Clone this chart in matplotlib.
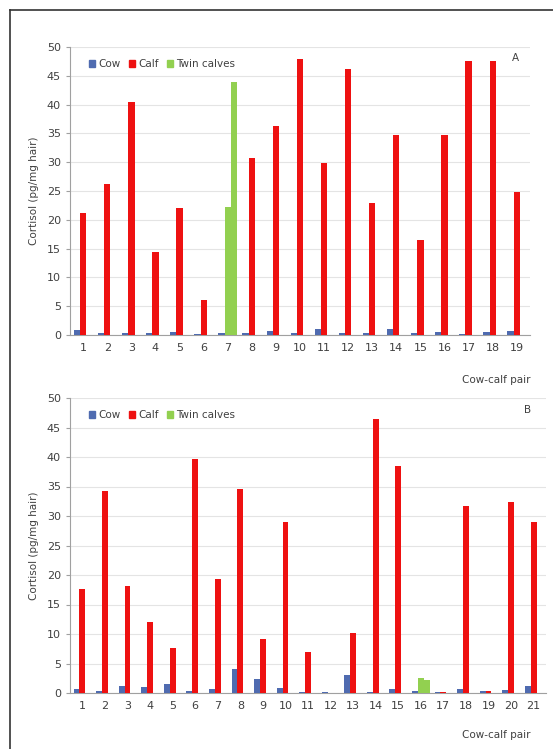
import matplotlib
matplotlib.use("Agg")
import matplotlib.pyplot as plt
import numpy as np
from matplotlib.lines import Line2D
from matplotlib.patches import Patch

# ---- Data ----
pairs_a = [str(i) for i in range(1, 20)]
cow_a = [0.8, 0.3, 0.3, 0.4, 0.6, 0.2, 0.3, 0.3, 0.7, 0.3, 1.1, 0.3, 0.4, 1.0, 0.3, 0.6, 0.2, 0.5, 0.7]
calf_a = [21.1, 26.3, 40.5, 14.4, 22.0, 6.0, 0.0, 30.8, 36.3, 48.0, 29.8, 46.2, 22.9, 34.8, 16.5, 34.7, 47.6, 47.6, 24.8]
twin1_a = [0, 0, 0, 0, 0, 0, 22.3, 0, 0, 0, 0, 0, 0, 0, 0, 0, 0, 0, 0]
twin2_a = [0, 0, 0, 0, 0, 0, 44.0, 0, 0, 0, 0, 0, 0, 0, 0, 0, 0, 0, 0]

pairs_b = [str(i) for i in range(1, 22)]
cow_b = [0.6, 0.4, 1.2, 1.0, 1.5, 0.4, 0.7, 4.0, 2.3, 0.9, 0.2, 0.2, 3.0, 0.2, 0.6, 0.4, 0.1, 0.6, 0.3, 0.5, 1.2]
calf_b = [17.7, 34.2, 18.1, 12.1, 7.7, 39.7, 19.3, 34.6, 9.2, 28.9, 7.0, 0.0, 10.2, 46.4, 38.5, 0.0, 0.1, 31.7, 0.3, 32.3, 29.0]
twin1_b = [0]*15 + [2.6] + [0]*5
twin2_b = [0]*15 + [2.2] + [0]*5

yticks = [0, 5, 10, 15, 20, 25, 30, 35, 40, 45, 50]

COW = "#4F6BB0"
CALF = "#EE1111"
TWIN = "#92D050"
TXT = "#404040"

fig = plt.figure(figsize=(5.53, 7.49), dpi=100)

def panel(rect, pairs, cow, calf, t1, t2, letter, letter_xy, xlim_r):
    ax = fig.add_axes(rect)
    x = np.arange(len(pairs))
    w = 0.26
    ax.bar(x - w, cow, w, color=COW, zorder=3)
    ax.bar(x, calf, w, color=CALF, zorder=3)
    ax.bar(x, t1, w, color=TWIN, zorder=3)
    ax.bar(x + w, t2, w, color=TWIN, zorder=3)
    ax.set_xlim(-0.55, xlim_r)
    ax.set_ylim(0, 50)
    ax.set_yticks(yticks)
    ax.set_xticks(x)
    ax.set_xticklabels(pairs)
    ax.yaxis.grid(True, color="#E4E4E4", linewidth=0.8, zorder=0)
    ax.set_axisbelow(True)
    for s in ["top", "right"]:
        ax.spines[s].set_visible(False)
    ax.spines["left"].set_color("#A0A0A0")
    ax.spines["bottom"].set_color("#A0A0A0")
    ax.tick_params(axis="y", colors=TXT, labelsize=8, length=3, color="#A0A0A0")
    ax.tick_params(axis="x", colors=TXT, labelsize=8, length=0, pad=6)
    ax.set_ylabel("Cortisol (pg/mg hair)", fontsize=7.5, color=TXT, labelpad=6)
    handles = [Patch(color=COW, label="Cow"), Patch(color=CALF, label="Calf"),
               Patch(color=TWIN, label="Twin calves")]
    ax.legend(handles=handles, loc="upper left", bbox_to_anchor=(0.02, 0.99), ncol=3,
              frameon=False, fontsize=7.5, handlelength=0.6, handleheight=0.6,
              handletextpad=0.3, columnspacing=0.8, labelcolor=TXT)
    fig.text(letter_xy[0] / 553, 1 - letter_xy[1] / 749, letter, fontsize=7.5,
             color=TXT, ha="center", va="center")
    return ax

axA = panel([70/553, 1-335/749, 460/553, 288/749], pairs_a, cow_a, calf_a, twin1_a, twin2_a,
            "A", (515, 58), 18.55)
fig.text(530/553, 1-380/749, "Cow-calf pair", fontsize=7.5, color=TXT, ha="right", va="center")

axB = panel([70/553, 1-693/749, 476/553, 295/749], pairs_b, cow_b, calf_b, twin1_b, twin2_b,
            "B", (528, 410), 20.55)
fig.text(530/553, 1-735/749, "Cow-calf pair", fontsize=7.5, color=TXT, ha="right", va="center")

# figure frame (top and left edges)
fig.add_artist(Line2D([10/553, 1], [1-10/749, 1-10/749], transform=fig.transFigure,
                      color="#333333", linewidth=1.2))
fig.add_artist(Line2D([10/553, 10/553], [0, 1-10/749], transform=fig.transFigure,
                      color="#333333", linewidth=1.2))

fig.savefig("out.png", dpi=100, facecolor="white")
